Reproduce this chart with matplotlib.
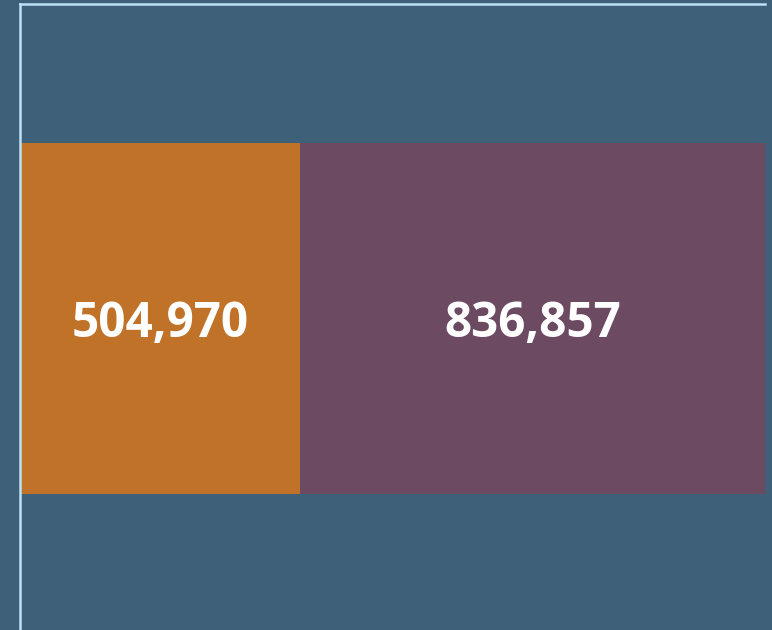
import matplotlib.pyplot as plt

# data
categories = ["Segment A", "Segment B"]
values = [504970, 836857]
colors = ["#C07229", "#6B4A62"]

bg = "#3F6079"
line_col = "#BCE2F5"

fig = plt.figure(figsize=(7.72, 6.3), dpi=100)
fig.patch.set_facecolor(bg)
ax = fig.add_axes([20 / 772, 0, 745 / 772, 626 / 630])
ax.set_facecolor(bg)

left = 0
for cat, val, col in zip(categories, values, colors):
    ax.barh(0, val, left=left, height=0.561, color=col, label=cat)
    ax.annotate(f"{val:,}", (left + val / 2, 0), xytext=(0, -4),
                textcoords="offset points", ha="center", va="center",
                color="white", fontsize=34.3, fontweight="bold",
                family="Open Sans")
    left += val

ax.set_xlim(0, sum(values))
ax.set_ylim(-0.4975, 0.5025)
ax.set_xticks([])
ax.set_yticks([])
for side in ["right", "bottom"]:
    ax.spines[side].set_visible(False)
for side in ["left", "top"]:
    ax.spines[side].set_color(line_col)
    ax.spines[side].set_linewidth(1.8)

fig.savefig("out.png", facecolor=bg)
